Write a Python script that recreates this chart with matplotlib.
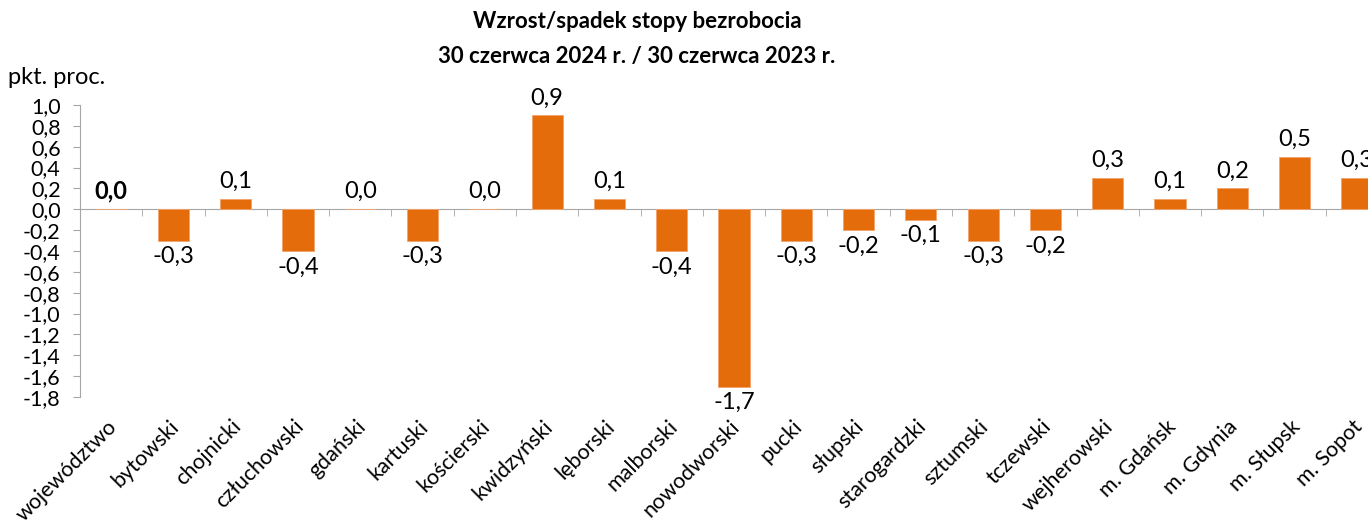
import matplotlib

matplotlib.use("Agg")
import matplotlib.pyplot as plt
import matplotlib.transforms as mtransforms

plt.rcParams["font.family"] = ["Lato", "DejaVu Sans"]

categories = [
    "województwo", "bytowski", "chojnicki", "człuchowski", "gdański",
    "kartuski", "kościerski", "kwidzyński", "lęborski", "malborski",
    "nowodworski", "pucki", "słupski", "starogardzki", "sztumski",
    "tczewski", "wejherowski", "m. Gdańsk", "m. Gdynia", "m. Słupsk",
    "m. Sopot",
]
values = [
    0.0, -0.3, 0.1, -0.4, 0.0, -0.3, 0.0, 0.9, 0.1, -0.4, -1.7,
    -0.3, -0.2, -0.1, -0.3, -0.2, 0.3, 0.1, 0.2, 0.5, 0.3,
]
y_ticks = [round(-1.8 + 0.2 * i, 1) for i in range(15)]

BAR = "#E46C0A"
GRID = "#A6A6A6"


def pl(v):
    return f"{v:.1f}".replace(".", ",")


fig = plt.figure(figsize=(13.68, 5.22), dpi=100)
# plot area runs past the right edge, like the original export
ax = fig.add_axes([80 / 1368, 1 - 397 / 522, 1308 / 1368, 292 / 522])

x = list(range(len(categories)))
ax.bar(x, values, width=0.5, color=BAR, edgecolor="#F4A36A", linewidth=0.6, zorder=3)

ax.set_xlim(-0.5, len(categories) - 0.5)
ax.set_ylim(-1.8, 1.0)
ax.set_yticks(y_ticks)
ax.set_yticklabels([pl(v) for v in y_ticks], fontsize=15.5)
ax.tick_params(axis="y", length=5, color=GRID, pad=9)

for s in ("top", "right"):
    ax.spines[s].set_visible(False)
ax.spines["left"].set_color(GRID)
ax.spines["bottom"].set_color(GRID)
ax.spines["bottom"].set_position(("data", 0))

# tick marks between categories on the zero line, labels set apart below
ax.set_xticks([i + 0.5 for i in x[:-1]], minor=True)
ax.set_xticks(x)
ax.set_xticklabels([])
ax.tick_params(axis="x", which="major", length=0)
ax.tick_params(axis="x", which="minor", length=5, color=GRID, direction="out")

trans = mtransforms.blended_transform_factory(ax.transData, ax.transAxes)
for i, name in enumerate(categories):
    ax.text(i + 0.04, -0.09, name, transform=trans, rotation=45,
            ha="right", va="center", rotation_mode="anchor", fontsize=15.5)

for i, v in enumerate(values):
    if v >= 0:
        ax.annotate(pl(v), (i, v), xytext=(0, 5), textcoords="offset points",
                    ha="center", va="bottom", fontsize=17,
                    fontweight="bold" if i == 0 else "normal")
    else:
        ax.annotate(pl(v), (i, v), xytext=(0, -4), textcoords="offset points",
                    ha="center", va="top", fontsize=17)

fig.text(637 / 1368, 1 - 21 / 522, "Wzrost/spadek stopy bezrobocia", ha="center",
         va="center", fontsize=16, fontweight="bold")
fig.text(637 / 1368, 1 - 57 / 522, "30 czerwca 2024 r. / 30 czerwca 2023 r.", ha="center",
         va="center", fontsize=16, fontweight="bold")
fig.text(8 / 1368, 1 - 77 / 522, "pkt. proc.", ha="left", va="center", fontsize=17)

fig.savefig("out.png", dpi=100)
